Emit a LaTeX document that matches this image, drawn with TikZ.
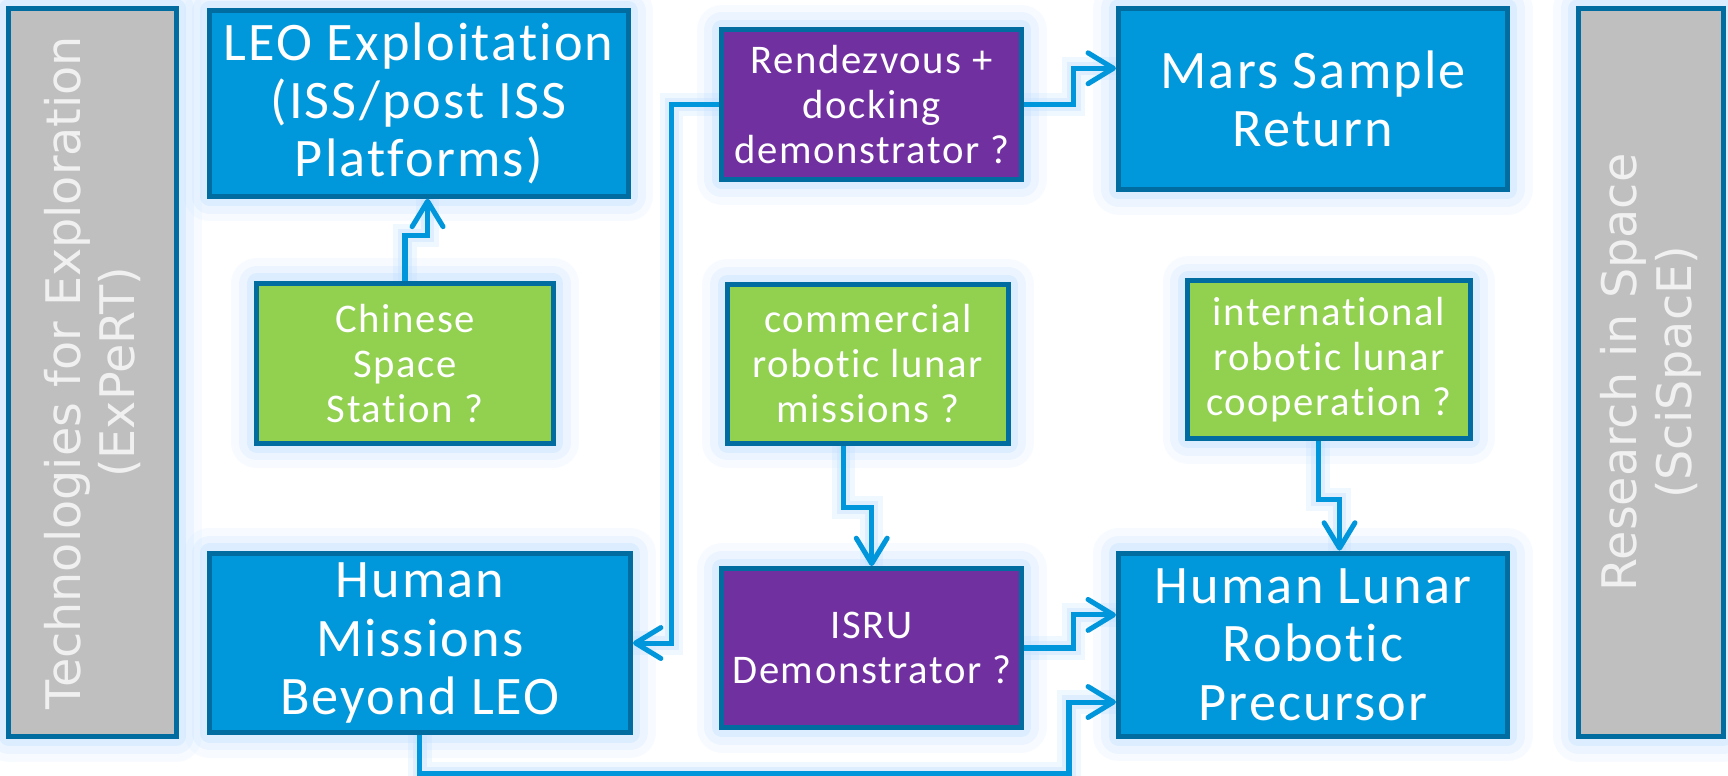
\documentclass[tikz,border=0pt]{standalone}
\usepackage{fontspec}
\setmainfont[LetterSpace=4,Ligatures=NoCommon,RawFeature=-liga]{Carlito}
\newfontfamily\sidefont{DejaVu Sans}
\usetikzlibrary{arrows.meta}
\definecolor{boxblue}{RGB}{0,152,218}
\definecolor{edgeblue}{RGB}{0,108,160}
\definecolor{linkblue}{RGB}{0,150,220}
\definecolor{boxgreen}{RGB}{146,208,80}
\definecolor{boxpurple}{RGB}{112,48,160}
\definecolor{boxgray}{RGB}{191,191,191}
\definecolor{glow}{RGB}{190,222,255}
\tikzset{
	box/.style={draw=edgeblue,line width=1.3pt,text=white,align=center,inner sep=0pt,
		preaction={draw=glow,line width=13pt,opacity=.12,line join=round},
		preaction={draw=glow,line width=9pt,opacity=.2,line join=round},
		preaction={draw=glow,line width=5pt,opacity=.35,line join=round}},
	big/.style={box,fill=boxblue,font=\fontsize{14}{15}\selectfont},
	small/.style={box,font=\fontsize{10.5}{11.6}\selectfont},
	side/.style={box,fill=boxgray,text=white!94!black,rotate=90,
		font=\sidefont\fontsize{12.3}{14}\selectfont},
	link/.style={draw=linkblue,line width=1.3pt,
		-{Straight Barb[length=2.3mm,width=2.8mm,round]},
		preaction={-,draw=glow,line width=6pt,opacity=.25},
		preaction={-,draw=glow,line width=3.5pt,opacity=.35}}
}
\begin{document}
\begin{tikzpicture}[x=0.01cm,y=-0.01cm]
	\useasboundingbox (0,0) rectangle (1568,704);
	
	\node[side,minimum width=6.6cm,minimum height=1.52cm] (expert) at (84,338)
		{Technologies for Exploration\\(ExPeRT)};
	\node[side,minimum width=6.6cm,minimum height=1.32cm] (scispace) at (1498,338)
		{Research in Space\\(SciSpacE)};
	
	\node[big,minimum width=3.8cm,minimum height=1.68cm] (leo) at (380,94)
		{LEO Exploitation\\(ISS/post ISS\\Platforms)};
	\node[small,fill=boxgreen,minimum width=2.69cm,minimum height=1.45cm] (css) at (367.5,329.5)
		{Chinese\\Space\\Station ?};
	\node[small,fill=boxpurple,minimum width=2.72cm,minimum height=1.36cm] (rdv) at (791,95)
		{Rendezvous +\\docking\\demonstrator ?};
	\node[big,minimum width=3.53cm,minimum height=1.64cm] (msr) at (1191.5,90)
		{Mars Sample\\Return};
	\node[small,fill=boxgreen,minimum width=2.55cm,minimum height=1.44cm] (clm) at (787.5,330)
		{commercial\\robotic lunar\\missions ?};
	\node[small,fill=boxgreen,minimum width=2.56cm,minimum height=1.43cm] (irc) at (1206,326.5)
		{international\\robotic lunar\\cooperation ?};
	\node[big,minimum width=3.82cm,minimum height=1.63cm] (hmb) at (381,583.5)
		{Human\\Missions\\Beyond LEO};
	\node[small,fill=boxpurple,minimum width=2.72cm,minimum height=1.44cm] (isru) at (791,588)
		{ISRU\\Demonstrator ?};
	\node[big,minimum width=3.53cm,minimum height=1.66cm] (hlr) at (1191.5,585)
		{Human Lunar\\Robotic\\Precursor};
	
	\draw[link] (css.north) -- ++(0,-41) -| ([xshift=.8mm]leo.south);
	\draw[link] (rdv.west) -- ++(-43,0) |- (hmb.east);
	\draw[link] (rdv.east) -- ++(45,0) |- ([yshift=2.8mm]msr.west);
	\draw[link] ([xshift=-2.2mm]clm.south) -- ++(0,56) -| (isru.north);
	\draw[link] ([xshift=-1mm]irc.south) -- ++(0,53) -| ([xshift=2.4mm]hlr.north);
	\draw[link] (isru.east) -- ++(45,0) |- ([yshift=2.7mm]hlr.west);
	\draw[link] (hmb.south) -- ++(0,35) -- ++(589,0) |- ([yshift=-5.2mm]hlr.west);
\end{tikzpicture}
\end{document}
